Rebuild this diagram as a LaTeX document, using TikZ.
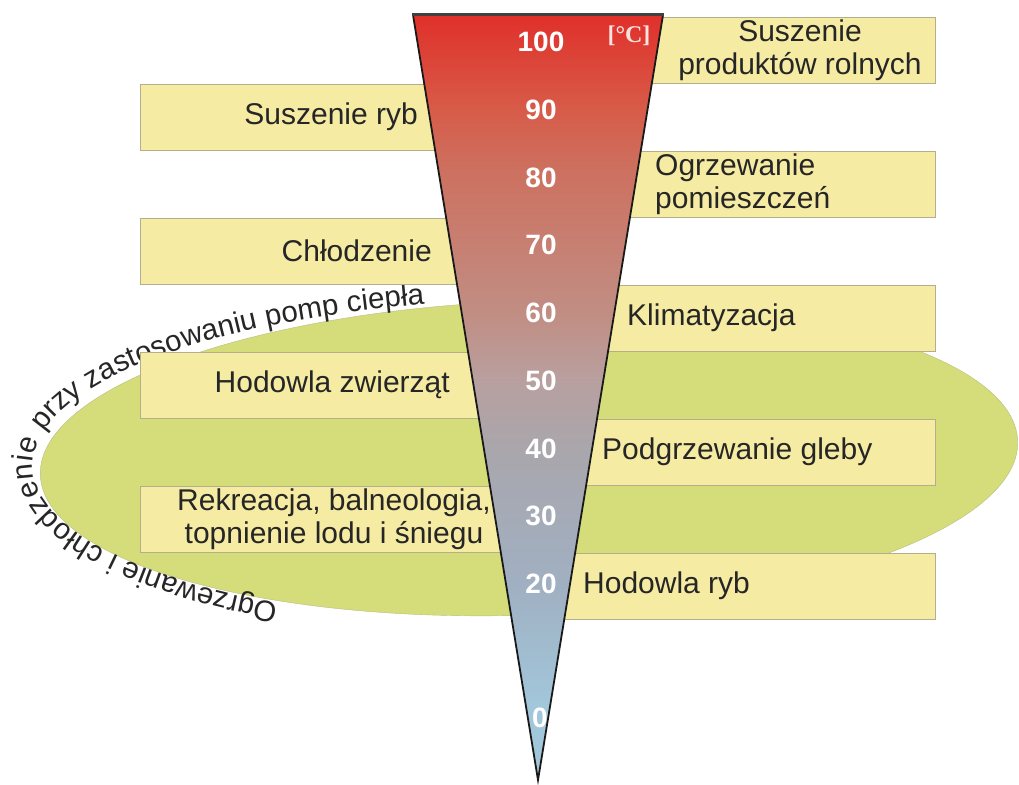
\documentclass[tikz,border=0pt]{standalone}
\usepackage{fontspec}
\setmainfont{Liberation Sans}
\newfontfamily\unitfont{Liberation Serif}
\usetikzlibrary{decorations.text}
\definecolor{boxfill}{HTML}{F5EBA3}
\definecolor{boxline}{HTML}{B4AE8C}
\definecolor{soil}{HTML}{D5DC7A}
\definecolor{soilline}{HTML}{B9BE82}
\definecolor{cold}{HTML}{A2C6DA}
\definecolor{t20}{HTML}{A0B0C2}
\definecolor{t40}{HTML}{A9A6AC}
\definecolor{t50}{HTML}{B8A0A0}
\definecolor{t60}{HTML}{C18E84}
\definecolor{t80}{HTML}{CD705F}
\definecolor{t90}{HTML}{D85A48}
\definecolor{hot}{HTML}{E0302A}
\pgfdeclareverticalshading{thermo}{100bp}{color(0bp)=(cold); color(30bp)=(cold); color(37.7bp)=(t20); color(46.6bp)=(t40); color(51bp)=(t50); color(55.4bp)=(t60); color(65bp)=(t80); color(69bp)=(t90); color(75bp)=(hot); color(100bp)=(hot)}

\begin{document}
\begin{tikzpicture}[x=1pt, y=1pt, every node/.style={font=\fontsize{30}{33}\selectfont, text=black!85, inner sep=0pt},
  appbox/.style={draw=boxline, fill=boxfill, minimum height=66},
  lbox/.style={appbox, minimum width=400, anchor=west},
  rbox/.style={appbox, minimum width=395, anchor=east},
  deg/.style={text=white, font=\fontsize{28}{28}\selectfont\bfseries}]
\useasboundingbox (0,0) rectangle (1019,784);
\filldraw[fill=soil, draw=soilline, rotate around={2:(529,326)}] (529,326) ellipse [x radius=489, y radius=157];
\path[rotate around={0.5:(529,322)}, decorate, decoration={text along path, text align=center, raise=2pt,
  text={|\fontsize{29.5}{29.5}\selectfont\color{black!85}|Ogrzewanie i chłodzenie przy zastosowaniu pomp ciepła}}]
  (529,322) ++(246:494 and 160) arc[start angle=246, end angle=96, x radius=494, y radius=160];
\node[rbox] (r1) at (935,734) {};
\node[lbox] (l1) at (140,666.5) {};
\node[rbox] (r2) at (935,600) {};
\node[lbox] (l2) at (140,533) {};
\node[rbox] (r3) at (935,466) {};
\node[lbox] (l3) at (140,399) {};
\node[rbox] (r4) at (935,332) {};
\node[lbox] (l4) at (140,265) {};
\node[rbox] (r5) at (935,198) {};
\node[align=center] (suszprod) at (800,734) {Suszenie\\produktów rolnych};
\node[anchor=east] (suszryb) at (418,667) {Suszenie ryb};
\node[anchor=west, align=left] (ogrz) at (655,600) {Ogrzewanie\\pomieszczeń};
\node[anchor=east] (chlodz) at (432,533) {Chłodzenie};
\node[anchor=west] (klim) at (627,466) {Klimatyzacja};
\node[anchor=east] (hodzw) at (450,399) {Hodowla zwierząt};
\node[anchor=west] (podgrz) at (602,332) {Podgrzewanie gleby};
\node[align=center] (rekre) at (334,265) {Rekreacja, balneologia,\\topnienie lodu i śniegu};
\node[anchor=west] (hodryb) at (583,198) {Hodowla ryb};
\coordinate (tl) at (413,769);
\coordinate (tr) at (663,769);
\coordinate (tip) at (538,4);
\shade[shading=thermo] (tl) -- (tr) -- (tip) -- cycle;
\draw[line width=1.8, black!90] (tl) -- (tip) -- (tr);
\draw[line width=3, black!75] ([xshift=-1]tl) -- ([xshift=1]tr);
\foreach \v/\y in {100/742, 90/674.25, 80/606.5, 70/538.75, 60/471, 50/403.25, 40/335.5, 30/267.75, 20/200}
  \node[deg] (n\v) at (541,\y) {\v};
\node[deg] (n0) at (540,66) {0};
\node[text=white!85!hot, font=\unitfont\bfseries\fontsize{24}{24}\selectfont] (unit) at (629,748) {[°C]};
\end{tikzpicture}
\end{document}
